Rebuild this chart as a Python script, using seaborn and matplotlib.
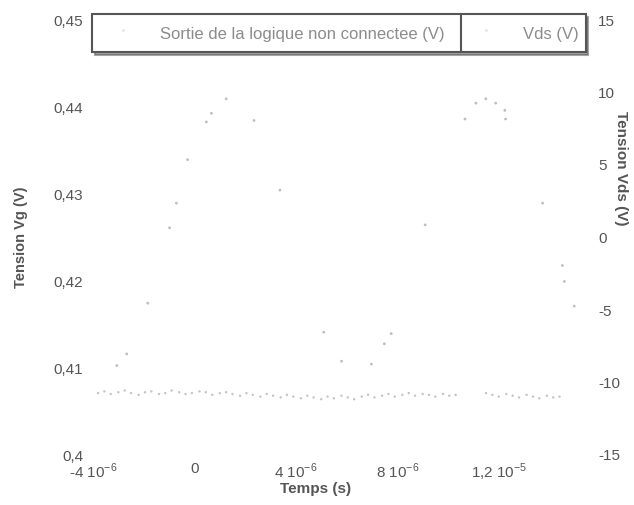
import matplotlib
matplotlib.use("Agg")
import matplotlib.pyplot as plt
import seaborn as sns
import pandas as pd
from matplotlib.lines import Line2D

# Vds trace (time in microseconds, Vds in volts)
t_vds = [-3.06, -2.67, -1.84, -0.98, -0.71, -0.27, 0.47, 0.67, 1.25, 2.35,
         3.37, 5.10, 5.80, 6.98, 7.49, 7.76, 9.10, 10.67, 11.10, 11.49,
         11.88, 12.24, 12.27, 13.73, 14.51, 14.59, 14.98]
vds = [-8.9, -8.1, -4.6, 0.6, 2.3, 5.3, 7.9, 8.5, 9.5, 8.0,
       3.2, -6.6, -8.6, -8.8, -7.4, -6.7, 0.8, 8.1, 9.2, 9.5,
       9.2, 8.7, 8.1, 2.3, -2.0, -3.1, -4.8]

# "Sortie de la logique non connectee" trace (time in microseconds, volts)
t_vg = [-3.8, -3.55, -3.3, -3.0, -2.75, -2.5, -2.2, -1.95, -1.7, -1.4,
        -1.15, -0.9, -0.6, -0.35, -0.1, 0.2, 0.45, 0.7, 1.0, 1.25,
        1.5, 1.8, 2.05, 2.3, 2.6, 2.85, 3.1, 3.4, 3.65, 3.9,
        4.2, 4.45, 4.7, 5.0, 5.25, 5.5, 5.8, 6.05, 6.3, 6.6,
        6.85, 7.1, 7.4, 7.65, 7.9, 8.2, 8.45, 8.7, 9.0, 9.25,
        9.5, 9.8, 10.05, 10.3, 11.5, 11.75, 12.0, 12.3, 12.55, 12.8,
        13.1, 13.35, 13.6, 13.9, 14.15, 14.4]
vg = [0.4070, 0.4072, 0.4069, 0.4071, 0.4073, 0.4070, 0.4068, 0.4071, 0.4072, 0.4069,
      0.4070, 0.4073, 0.4071, 0.4069, 0.4070, 0.4072, 0.4071, 0.4068, 0.4070, 0.4071,
      0.4069, 0.4067, 0.4070, 0.4068, 0.4066, 0.4069, 0.4067, 0.4065, 0.4068, 0.4066,
      0.4064, 0.4067, 0.4065, 0.4063, 0.4066, 0.4064, 0.4067, 0.4065, 0.4063, 0.4066,
      0.4068, 0.4065, 0.4067, 0.4069, 0.4066, 0.4068, 0.4070, 0.4067, 0.4069, 0.4068,
      0.4066, 0.4069, 0.4067, 0.4068, 0.4070, 0.4068, 0.4066, 0.4069, 0.4067, 0.4065,
      0.4068, 0.4066, 0.4064, 0.4067, 0.4065, 0.4066]

x_ticks = [-4e-6, 0, 4e-6, 8e-6, 1.2e-5]
x_labels = [r"-4 10$^{-6}$", "0", r"4 10$^{-6}$", r"8 10$^{-6}$", r"1,2 10$^{-5}$"]
vg_ticks = [0.40, 0.41, 0.42, 0.43, 0.44, 0.45]
vg_labels = ["0,4", "0,41", "0,42", "0,43", "0,44", "0,45"]
vds_ticks = [-15, -10, -5, 0, 5, 10, 15]

df_vg = pd.DataFrame({"t": [v * 1e-6 for v in t_vg], "v": vg})
df_vds = pd.DataFrame({"t": [v * 1e-6 for v in t_vds], "v": vds})

sns.set_style("white")
plt.rcParams["font.family"] = ["Liberation Sans", "DejaVu Sans"]
plt.rcParams["mathtext.fontset"] = "custom"
plt.rcParams["mathtext.rm"] = "Liberation Sans"

text_col = "#555555"
fig = plt.figure(figsize=(6.34, 5.06), dpi=100)
ax = fig.add_axes([93 / 634, 1 - 455 / 506, 497 / 634, 435 / 506])
ax2 = ax.twinx()

sns.scatterplot(data=df_vg, x="t", y="v", ax=ax, s=3, color="#c4c4c4",
                edgecolor="none", legend=False)
sns.scatterplot(data=df_vds, x="t", y="v", ax=ax2, s=4, color="#bdbdbd",
                edgecolor="none", legend=False)

ax.set_xlim(-4e-6, 1.56e-5)
ax.set_ylim(0.40, 0.45)
ax2.set_ylim(-15, 15)
ax.set_xticks(x_ticks, x_labels)
ax.set_yticks(vg_ticks, vg_labels)
ax2.set_yticks(vds_ticks, [str(v) for v in vds_ticks])

for a in (ax, ax2):
    for s in a.spines.values():
        s.set_visible(False)
    a.tick_params(length=0, labelsize=11, colors=text_col)
ax.tick_params(axis="y", pad=7)
ax.tick_params(axis="x", pad=5)
ax2.tick_params(axis="y", pad=6)

ax.set_xlabel("Temps (s)", fontsize=11, fontweight="bold", color=text_col)
ax.xaxis.set_label_coords(0.447, -0.062)
ax.set_ylabel("Tension Vg (V)", fontsize=10.5, fontweight="bold", color=text_col)
ax.yaxis.set_label_coords(-0.13, 0.5)
ax2.set_ylabel("Tension Vds (V)", fontsize=11, fontweight="bold",
               color=text_col, rotation=270, va="bottom")
ax2.yaxis.set_label_coords(1.048, 0.66)

handles = [Line2D([], [], ls="none", marker="o", ms=1, color="#e4e4e4"),
           Line2D([], [], ls="none", marker="o", ms=1, color="#e4e4e4")]
leg = fig.legend(handles, ["Sortie de la logique non connectee (V)", "Vds (V)"],
                 ncol=2, loc="upper left", bbox_to_anchor=(92 / 634, 1 - 15 / 506),
                 borderaxespad=0, fontsize=12, frameon=True, fancybox=False,
                 shadow=True, borderpad=0.4, handlelength=2.9, handleheight=1.9,
                 handletextpad=0.8, columnspacing=1.0, labelcolor="#8c8c8c")
leg.get_frame().set_edgecolor("#555555")
leg.get_frame().set_linewidth(1.5)

fig.canvas.draw()
bb = leg.get_window_extent()
fig.add_artist(Line2D([461 / 634, 461 / 634], [bb.y0 / 506, bb.y1 / 506],
                      color="#555555", lw=1.5, transform=fig.transFigure,
                      zorder=10))

fig.savefig("out.png", dpi=100)
